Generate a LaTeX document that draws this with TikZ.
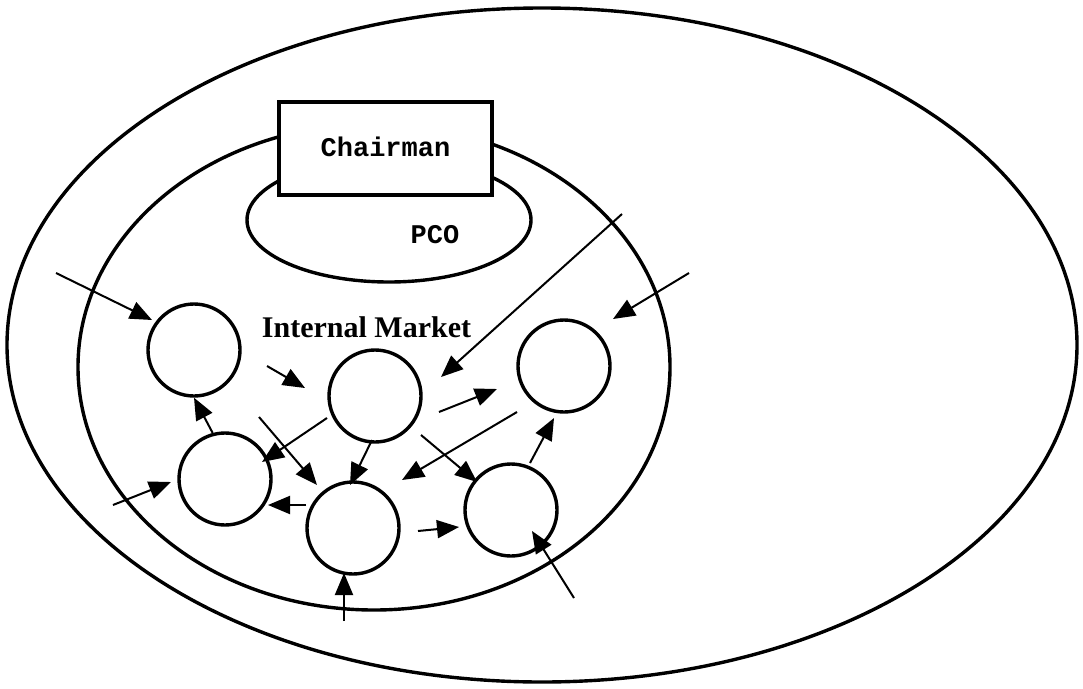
\documentclass[tikz,border=0pt]{standalone}
\usepackage{fontspec}
\newfontfamily\monob{Liberation Mono}[BoldFont={Liberation Mono Bold}]
\newfontfamily\serifb{Liberation Serif}[BoldFont={Liberation Serif Bold}]
\usetikzlibrary{arrows.meta,shapes.geometric}
\begin{document}
\begin{tikzpicture}[x=1pt,y=-1pt,
  ring/.style={ellipse,draw,line width=3.4pt,inner sep=0pt},
  unit/.style={circle,draw,line width=3.4pt,minimum size=92pt,inner sep=0pt},
  arr/.style={line width=2pt,-{Triangle[length=22pt,width=18pt]}},
  label/.style={font=\monob\bfseries\fontsize{27}{27}\selectfont},
]
\useasboundingbox (0,0) rectangle (1083,688);
\node[ring,minimum width=1070pt,minimum height=674pt] (outer) at (542,345) {};
\node[ring,minimum width=592pt,minimum height=486pt] (market) at (374,367) {};
\node[ring,minimum width=284pt,minimum height=124pt] (pco) at (389,220) {};
\node[draw,fill=white,line width=3.4pt,minimum width=213pt,minimum height=93pt,inner sep=0pt] (chair) at (385.5,148.5) {};
\node[label,anchor=base] (chairtxt) at (385.5,156) {Chairman};
\node[label,anchor=base] (pcotxt) at (435,243) {PCO};
\node[font=\serifb\bfseries\fontsize{30}{30}\selectfont,anchor=base] (imtxt) at (366.5,337) {Internal Market};
% units
\node[unit] (c1) at (194,350) {};
\node[unit] (c2) at (375,396) {};
\node[unit] (c3) at (225,479) {};
\node[unit] (c4) at (353,528) {};
\node[unit] (c5) at (564,366) {};
\node[unit] (c6) at (511,510) {};
% free ends
\coordinate (a1s) at (56,273);   \coordinate (a1e) at (152,320);
\coordinate (a2s) at (267,366);  \coordinate (a2e) at (305,388);
\coordinate (a4s) at (327,418);  \coordinate (a4e) at (262,462);
\coordinate (a5s) at (259,417);  \coordinate (a5e) at (317,485);
\coordinate (a6s) at (372,440);  \coordinate (a6e) at (350,485);
\coordinate (a7s) at (306,505);  \coordinate (a7e) at (268,505);
\coordinate (a8s) at (113,505);  \coordinate (a8e) at (171,482);
\coordinate (a9s) at (344,621);  \coordinate (a9e) at (344,573);
\coordinate (a10s) at (418,531); \coordinate (a10e) at (459,527);
\coordinate (a11s) at (421,435); \coordinate (a11e) at (477,482);
\coordinate (a12s) at (517,412); \coordinate (a12e) at (402,480);
\coordinate (a13s) at (439,412); \coordinate (a13e) at (497,389);
\coordinate (a14s) at (622,214); \coordinate (a14e) at (441,377);
\coordinate (a15s) at (689,273); \coordinate (a15e) at (613,319);
\coordinate (a16s) at (530,463); \coordinate (a16e) at (554,418);
\coordinate (a17s) at (574,598); \coordinate (a17e) at (532,531);
\draw[arr] (a1s) -- (a1e);
\draw[arr] (a2s) -- (a2e);
\draw[arr] (c3.105) -- (c1.south);
\draw[arr] (a4s) -- (a4e);
\draw[arr] (a5s) -- (a5e);
\draw[arr] (a6s) -- (a6e);
\draw[arr] (a7s) -- (a7e);
\draw[arr] (a8s) -- (a8e);
\draw[arr] (a9s) -- (a9e);
\draw[arr] (a10s) -- (a10e);
\draw[arr] (a11s) -- (a11e);
\draw[arr] (a12s) -- (a12e);
\draw[arr] (a13s) -- (a13e);
\draw[arr] (a14s) -- (a14e);
\draw[arr] (a15s) -- (a15e);
\draw[arr] (a16s) -- (a16e);
\draw[arr] (a17s) -- (a17e);
\end{tikzpicture}
\end{document}
